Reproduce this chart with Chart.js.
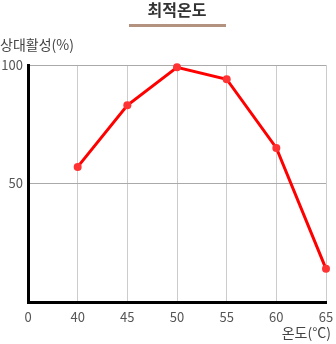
<!DOCTYPE html>
<html>
<head>
<meta charset="utf-8">
<script src="https://cdn.jsdelivr.net/npm/chart.js@4/dist/chart.umd.min.js"></script>
<style>
  html, body { margin: 0; padding: 0; background: #fff; }
  #wrap { position: relative; width: 336px; height: 344px; }
</style>
</head>
<body>
<div id="wrap"><canvas id="chart" width="336" height="344"></canvas></div>
<script>
// temperature categories and relative activity (%)
var temps = ['0', '40', '45', '50', '55', '60', '65'];
var activity = [null, 57, 83, 99, 94, 65, 14];
var yTicks = [50, 100];

var FONT = "'Noto Sans CJK KR', 'Noto Sans', sans-serif";

// title, underline and axis captions
var captions = {
    id: 'captions',
    afterDraw: function(chart) {
        const ctx = chart.ctx;
        ctx.save();
        ctx.fillStyle = '#333';
        ctx.font = 'bold 16px ' + FONT;
        ctx.textAlign = 'center';
        ctx.textBaseline = 'middle';
        ctx.fillText('최적온도', 177, 10);

        ctx.fillStyle = '#b39280';
        ctx.fillRect(129, 24, 97, 3);

        ctx.fillStyle = '#444';
        ctx.font = '14px ' + FONT;
        ctx.textAlign = 'left';
        ctx.fillText('상대활성(%)', 0, 45);

        ctx.textAlign = 'right';
        ctx.fillText('온도(°C)', 331, 333);
        ctx.restore();
    }
};

const ctx = document.getElementById('chart').getContext('2d');
new Chart(ctx, {
    type: 'line',
    data: {
        labels: temps,
        datasets: [{
            data: activity,
            borderColor: '#ff0000',
            borderWidth: 3,
            backgroundColor: '#ff3333',
            pointBackgroundColor: '#ff3333',
            pointBorderWidth: 0,
            pointRadius: 4,
            tension: 0,
            clip: false
        }]
    },
    options: {
        responsive: false,
        animation: false,
        events: [],
        layout: { padding: { top: 65, right: 0, left: 0, bottom: 0 } },
        plugins: { legend: { display: false }, tooltip: { enabled: false } },
        scales: {
            x: {
                offset: false,
                grid: { color: '#cccccc', lineWidth: 1, drawTicks: false },
                border: { color: '#000', width: 3 },
                ticks: { color: '#555', font: { family: FONT, size: 13 }, padding: 7, maxRotation: 0, autoSkip: false },
                afterFit: function(s) { s.height = 42; s.paddingRight = 10; }
            },
            y: {
                min: 0,
                max: 100,
                afterBuildTicks: function(s) {
                    s.ticks = [{ value: 0 }].concat(yTicks.map(function(v) { return { value: v }; }));
                },
                grid: { color: '#aaaaaa', lineWidth: 1, drawTicks: false },
                border: { color: '#000', width: 3 },
                ticks: {
                    color: '#555',
                    font: { family: FONT, size: 13 },
                    padding: 5,
                    callback: function(v) { return v === 0 ? '' : v; }
                },
                afterFit: function(s) { s.width = 28; }
            }
        }
    },
    plugins: [captions]
});
</script>
</body>
</html>
